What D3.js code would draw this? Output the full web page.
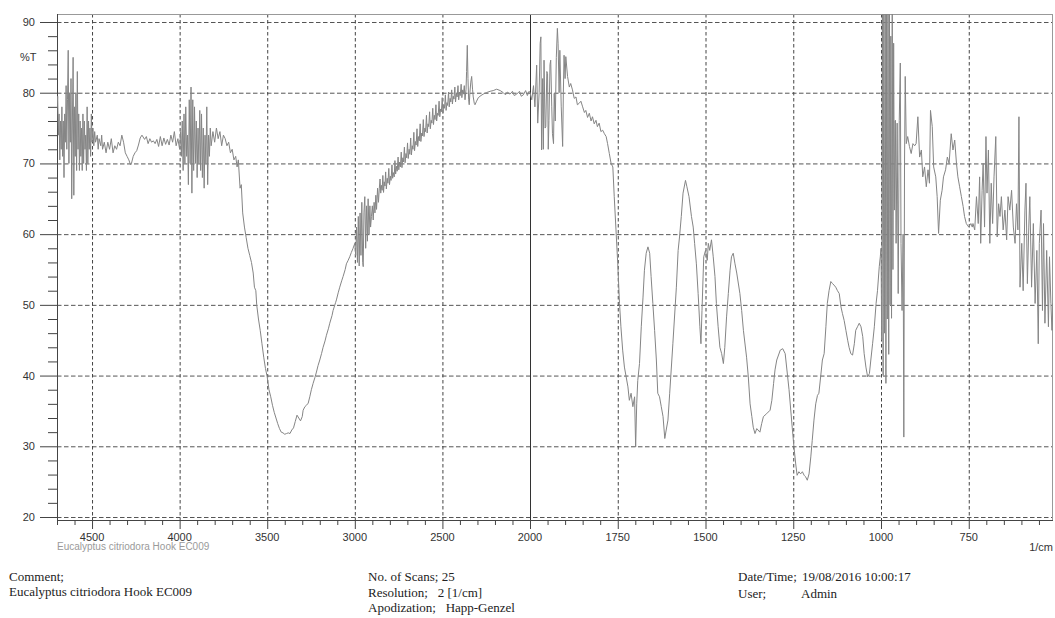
<!DOCTYPE html>
<html lang="en">
<head>
<meta charset="UTF-8">
<title>FTIR spectrum - Eucalyptus citriodora Hook EC009</title>
<script src="https://d3js.org/d3.v7.min.js"></script>
<style>
  body { margin: 0; background: #fff; }
  svg { display: block; }
  .tick-label { font-family: "Liberation Sans", Arial, sans-serif; font-size: 11px; fill: #333; }
  .footer { font-family: "Liberation Serif", "Times New Roman", serif; font-size: 13px; fill: #222; }
</style>
</head>
<body>
<svg width="1055" height="618"></svg>
<script>
// wavenumber (1/cm) and %T, one array per region
const region4700to3600 = [
  [4700,78],[4696,79.5],[4692,74],[4688,77],[4684,70.5],[4680,76],[4676,72],[4672,78],
  [4668,71],[4664,76],[4660,68],[4656,77],[4652,73],[4648,81],[4644,72],[4640,79],
  [4636,86],[4632,70],[4628,80],[4624,73],[4620,82],[4616,65],[4612,76],[4608,85],
  [4604,65.5],[4600,78],[4596,71],[4592,80],[4588,69],[4584,83],[4580,72],[4576,77],
  [4572,69],[4568,76],[4564,71],[4560,75],[4556,69],[4552,77],[4548,70],[4544,76],
  [4540,72],[4536,74],[4532,69],[4528,78],[4524,70],[4520,76],[4516,72],[4512,75],
  [4508,71],[4504,77],[4500,73],[4495,75],[4490,72.5],[4485,74.5],[4480,73],[4470,74],
  [4465,72],[4460,73.5],[4450,72.5],[4445,74],[4440,72],[4430,73],[4420,71.5],[4410,73],
  [4400,72],[4390,73.5],[4380,71.5],[4370,72.5],[4360,72],[4350,73],[4340,72.5],[4330,74],
  [4320,73],[4310,71.5],[4300,71],[4290,70.5],[4280,69.8],[4275,70],[4265,71],[4255,71.5],
  [4245,71.8],[4235,72.6],[4225,73.6],[4215,74],[4200,73.4],[4190,73.8],[4180,72.8],
  [4170,73.5],[4160,73],[4150,73.2],[4140,72.8],[4130,73.4],[4120,72.4],[4110,73.8],
  [4100,72.5],[4090,73.6],[4080,72.7],[4070,73.4],[4060,72.6],[4050,74],[4040,73],
  [4030,74.5],[4020,72.5],[4010,73.5],[4000,72],[3995,74.5],[3990,71],[3985,76],
  [3980,69],[3975,77],[3970,70],[3965,78],[3960,71],[3955,74],[3950,67],[3945,79],
  [3940,70],[3935,80.8],[3930,65.8],[3925,79],[3920,69],[3915,78],[3910,70],[3905,76],
  [3900,68],[3895,75],[3890,70],[3885,77.5],[3880,69],[3875,77],[3870,68],[3865,75],
  [3860,66.5],[3855,74],[3850,70],[3845,78],[3840,67],[3835,74],[3830,71],[3825,75],
  [3820,72.5],[3810,74.5],[3800,73],[3790,75],[3780,73.5],[3770,74.5],[3760,72.5],
  [3750,74],[3740,73.5],[3730,72.5],[3720,73],[3710,71.5],[3700,72],[3690,70.5],
  [3680,71],[3672,69.5],[3665,70.5],[3655,66.5],[3648,67],[3640,63],[3630,61],[3620,59.5],
  [3610,58]
];

const region3600to2000 = [
  [3600,57],[3590,56],[3580,54.5],[3573,52.5],[3565,52],[3560,50],[3550,48],[3540,46.4],
  [3530,44.5],[3520,42.6],[3510,41],[3500,39.8],[3490,38],[3480,37],[3470,35.8],[3460,34.8],
  [3450,34],[3440,33.2],[3430,32.5],[3420,32],[3410,31.9],[3400,31.7],[3390,31.8],
  [3380,31.9],[3370,31.8],[3360,32.3],[3350,32.6],[3340,33.5],[3330,34.4],[3320,34],
  [3310,33.6],[3300,34.2],[3295,35.1],[3285,35.6],[3276,35.8],[3266,36.1],[3257,37],
  [3248,38],[3238,38.9],[3228,39.7],[3219,40.5],[3210,41.4],[3200,42.2],[3190,43.1],
  [3181,44],[3170,44.9],[3162,45.7],[3150,46.7],[3143,47.4],[3130,48.5],[3124,49.2],
  [3110,50.3],[3105,50.7],[3095,51.7],[3086,52.5],[3075,53.4],[3067,54],[3055,55],
  [3048,55.8],[3038,56.3],[3029,56.8],[3020,57.4],[3010,58],[3000,58.7],[2995,57],
  [2990,61],[2985,56],[2980,62.5],[2975,55.5],[2970,63],[2965,57],[2960,64.5],[2955,56],
  [2952,55.4],[2948,63],[2943,65.3],[2938,58],[2933,64],[2928,59],[2924,65],[2919,60],
  [2914,64],[2910,61],[2905,62.5],[2900,64],[2895,62],[2890,64.5],[2885,63],[2880,65.5],
  [2876,63.5],[2870,66.5],[2865,64.5],[2860,66.5],[2856,67.8],[2852,65.8],[2848,66.9],
  [2844,66.2],[2840,68.3],[2836,65.9],[2832,67.4],[2828,66.8],[2824,68.8],[2820,66.4],
  [2815,67.9],[2811,67.2],[2806,69.3],[2802,67],[2797,68.2],[2793,67.6],[2788,69.8],
  [2784,67.9],[2780,68.7],[2775,68.1],[2771,70.4],[2767,68.5],[2762,69.6],[2758,68.9],
  [2753,70.9],[2749,69.1],[2744,70.2],[2740,69.5],[2735,71.6],[2731,69.4],[2726,70.8],
  [2722,70.2],[2717,72.3],[2713,70.1],[2708,71.4],[2704,70.8],[2699,72.9],[2695,70.7],
  [2690,72],[2686,71.3],[2681,73.6],[2677,71.2],[2672,72.5],[2668,72],[2663,74.4],
  [2659,71.8],[2654,73.1],[2650,72.6],[2645,74.9],[2641,72.4],[2636,73.8],[2632,73.2],
  [2627,75.6],[2623,73.1],[2618,74.3],[2614,73.9],[2609,76.2],[2605,73.8],[2600,75],
  [2596,74.5],[2591,76.8],[2587,74.3],[2582,75.6],[2578,75.2],[2573,77.3],[2569,74.9],
  [2564,76.1],[2560,75.7],[2555,77.8],[2551,75.5],[2546,76.8],[2542,76.2],[2537,78.3],
  [2533,76],[2528,77.1],[2524,76.8],[2519,78.8],[2515,76.6],[2510,77.7],[2506,77.3],
  [2501,79.3],[2497,77.1],[2492,78.3],[2488,77.8],[2483,79.7],[2479,77.5],[2474,78.6],
  [2470,78.2],[2465,80.1],[2461,78],[2456,79.2],[2452,78.7],[2447,80.4],[2443,78.4],
  [2438,79.5],[2434,79.1],[2429,80.8],[2425,78.7],[2420,79.9],[2416,79.4],[2411,81],
  [2407,79],[2402,80.1],[2398,79.6],[2393,81.2],[2389,79.3],[2384,80.4],[2380,79.8],
  [2375,81],[2371,79],[2365,80.5],
  [2362,83],[2358,86.7],[2354,82],[2350,79],[2347,78.3],[2343,80],[2338,81.5],[2333,82.3],
  [2328,80.5],[2324,79.4],[2318,78.5],[2314,78.3],[2305,78.8],[2295,79.3],[2280,79.6],
  [2267,79.8],[2250,80],[2228,80.2],[2210,80.3],[2190,80.5],[2170,80.3],[2152,80],
  [2140,79.7],[2130,80.1],[2114,79.8],[2100,80.2],[2090,79.6],[2076,79.8],[2060,80.2],
  [2050,79.5],[2038,79.7],[2025,80.3],[2015,79.6],[2005,80.2]
];

const region2000to1000 = [
  [2000,80],[1995,79],[1990,81],[1986,78],[1981,83.9],[1978,75.7],[1974,80],[1971,87],
  [1969,87.9],[1967,71.9],[1964,82],[1962,72],[1960,84.6],[1957,75],[1955,75.2],[1952,83],
  [1950,82.7],[1948,72],[1946,76.1],[1943,84],[1941,84.6],[1938,78],[1936,74.2],
  [1933,72.8],[1931,79.9],[1928,76],[1925,85],[1922,89.1],[1920,87],[1917,80],[1915,86],
  [1911,78],[1907,72.4],[1905,80],[1903,85.3],[1900,82],[1898,85.1],[1893,82.3],
  [1888,80.8],[1884,81.3],[1879,80.4],[1874,79.2],[1869,79.4],[1865,78.3],[1860,78.5],
  [1855,78.8],[1850,78],[1845,77.2],[1841,77.5],[1836,76.5],[1831,77.1],[1826,76],
  [1822,76.6],[1817,75.6],[1812,76.1],[1808,75.2],[1803,75.7],[1798,74.5],[1793,74.7],
  [1788,74.2],[1783,73.8],[1779,72.8],[1774,71.4],[1769,70],[1764,69.5],[1760,65.3],
  [1755,60.6],[1750,55.8],[1745,50.2],[1741,46.9],[1736,43.6],[1731,41.2],[1726,39.8],
  [1721,38.4],[1717,36.5],[1712,37.5],[1707,35.6],[1702,37],[1699,29.9],[1696,36],
  [1693,39.3],[1688,41.7],[1683,46.9],[1678,51.1],[1674,54.9],[1669,57.3],[1664,58.2],
  [1659,57.3],[1655,54],[1650,50.2],[1645,46.4],[1640,42.2],[1636,37.5],[1631,37],
  [1626,35.6],[1621,34.2],[1616,31.1],[1612,32.3],[1607,33.7],[1602,37.5],[1593,44.5],
  [1583,52.5],[1578,57.7],[1574,59.6],[1569,62.5],[1564,65.8],[1557,67.6],[1553,66.7],
  [1547,65.3],[1540,62.5],[1535,61],[1531,58.7],[1526,55.8],[1521,51.6],[1516,46.9],
  [1513,44.5],[1510,49.2],[1505,56.8],[1500,57.7],[1495,56.3],[1492,58.7],[1488,57.7],
  [1483,59.2],[1478,56.8],[1473,54],[1469,50.2],[1464,46.9],[1459,44],[1454,43.1],
  [1449,41.7],[1445,44],[1440,48.3],[1435,51.6],[1430,54.9],[1426,56.8],[1421,57.3],
  [1416,55.8],[1411,54.5],[1402,51.6],[1397,49.2],[1392,46.4],[1383,42.6],[1378,39.8],
  [1373,36],[1368,34.2],[1364,32.7],[1359,31.8],[1354,32.5],[1345,32],[1340,33.2],
  [1335,34.2],[1326,34.6],[1316,35.1],[1311,36.5],[1306,38.9],[1302,40.8],[1297,42.2],
  [1287,43.6],[1280,43.8],[1273,43.1],[1262,38],[1253,32.7],[1248,29.9],[1243,27.5],
  [1239,25.9],[1234,26.4],[1229,26.1],[1224,26.4],[1219,25.9],[1215,25.7],[1210,25.2],
  [1205,26.1],[1200,28.5],[1196,30.8],[1191,33.7],[1186,36],[1181,37.2],[1177,37.5],
  [1172,39.8],[1167,42.2],[1162,43.1],[1157,46.9],[1153,50.2],[1148,52],[1143,53.3],
  [1138,53],[1134,52.8],[1129,52.5],[1124,52],[1119,51.6],[1114,49.7],[1110,48.8],
  [1105,47.8],[1100,46.4],[1095,45],[1091,44],[1086,43.1],[1081,42.9],[1076,44.5],
  [1072,46.4],[1067,46.9],[1062,47.4],[1057,46.9],[1052,45.5],[1048,43.1],[1043,41.2],
  [1038,39.8],[1033,40.3],[1029,42.2],[1024,44.5],[1019,46.9],[1014,50.2],[1010,52],
  [1005,55.4],[1002,56.8]
];

const region1000to510 = [
  [1000,58],[998,45],[996,92],[994,40],[992,92],[990,46],[988,92],[986,38.9],[984,92],
  [982,48],[980,92],[978,43],[976,92],[974,50],[972,88],[970,48.1],[968,92],[966,55],
  [964,87],[962,63.4],[960,76],[959,76.1],[957,58.7],[954,75.7],[951,51.6],[948,76.1],
  [945,84.2],[943,58.7],[940,49.2],[937,60],[935,31.3],[933,70],[931,82.3],[928,72.8],
  [924,73.8],[919,72.4],[914,71.4],[909,72.8],[904,72.5],[900,72.8],[895,76.6],[890,70.9],
  [885,71.9],[881,68.1],[876,69.5],[871,66.7],[866,69.1],[862,67.2],[859,77.5],[854,75.2],
  [850,69.5],[844,68.1],[840,65.3],[836,60.1],[831,64.8],[826,66.2],[822,68.1],[816,69.1],
  [811,70.9],[806,70],[800,74.2],[795,71.9],[790,73.3],[785,70],[781,68.1],[776,66.7],
  [771,65.3],[766,63.9],[762,62.5],[757,61.5],[750,61],[744,61.5],[740,61],[738,61.5],
  [733,60.6],[728,65.3],[723,61.5],[719,68.1],[716,58.7],[712,66.2],[709,70],[705,61],
  [701,73.8],[698,65.8],[694,71.9],[690,58.7],[686,67.2],[682,61.5],[678,68.1],[673,73.8],
  [669,59.6],[665,64.3],[661,62.5],[657,65.3],[652,60.6],[647,63.4],[642,59.2],[638,65.3],
  [633,63.4],[628,66.2],[623,61],[618,58.7],[614,64.3],[610,60.6],[607,76.6],[604,52.5],
  [599,58.7],[595,52],[590,63.4],[587,67.2],[583,53],[579,61],[576,65.3],[571,52.5],
  [566,61.5],[561,50.2],[556,57.7],[552,44.5],[549,58.7],[544,63.4],[540,49.2],[537,61.5],
  [533,47.4],[528,57.7],[523,46.9],[520,56.8],[516,50.2],[513,46.4],[510,50.2]
];

// axis ticks and labels
const yTicks = [20, 30, 40, 50, 60, 70, 80, 90];
const yMinorTicks = d3.range(20, 91, 2);
const xLabelTicks = [4500, 4000, 3500, 3000, 2500, 2000, 1750, 1500, 1250, 1000, 750];
const xMinorHigh = d3.range(4700, 2000, -100);
const xMinorLow = d3.range(2000, 510, -50);

const sampleName = "Eucalyptus citriodora Hook EC009";
const infoLeft = ["Comment;", sampleName];
const infoMiddle = ["No. of Scans; 25", "Resolution;   2 [1/cm]", "Apodization;   Happ-Genzel"];
const infoRight = [["Date/Time;", "19/08/2016 10:00:17"], ["User;", "Admin"]];

const svg = d3.select("svg");
const plot = { left: 57, right: 1053, top: 14, bottom: 520 };

// the x axis is compressed by two above 2000 1/cm
const x = d3.scaleLinear()
    .domain([4700, 2000, 510])
    .range([plot.left, 530, plot.right]);

const y = d3.scaleLinear()
    .domain([20, 90])
    .range([517, 22]);

svg.append("rect")
    .attr("width", 1055).attr("height", 618).attr("fill", "#fff");

// horizontal grid
svg.append("g").selectAll("line")
    .data(yTicks)
    .join("line")
    .attr("x1", plot.left).attr("x2", plot.right)
    .attr("y1", d => y(d) + 0.5).attr("y2", d => y(d) + 0.5)
    .attr("stroke", "#555")
    .attr("stroke-width", 1)
    .attr("stroke-dasharray", "4.5,2.5");

// vertical grid, solid at the scale break
svg.append("g").selectAll("line")
    .data(xLabelTicks)
    .join("line")
    .attr("x1", d => x(d) + 0.5).attr("x2", d => x(d) + 0.5)
    .attr("y1", plot.top).attr("y2", plot.bottom)
    .attr("stroke", d => d === 2000 ? "#333" : "#444")
    .attr("stroke-width", 1)
    .attr("stroke-dasharray", d => d === 2000 ? null : "3.5,2.5");

// frame
svg.append("rect")
    .attr("x", plot.left + 0.5).attr("y", plot.top + 0.5)
    .attr("width", plot.right - plot.left - 1).attr("height", plot.bottom - plot.top)
    .attr("fill", "none")
    .attr("stroke", "#999")
    .attr("stroke-width", 1);

svg.append("line")
    .attr("x1", plot.left + 0.5).attr("x2", plot.left + 0.5)
    .attr("y1", plot.top).attr("y2", plot.bottom)
    .attr("stroke", "#444");
svg.append("line")
    .attr("x1", plot.left).attr("x2", plot.right)
    .attr("y1", plot.bottom + 0.5).attr("y2", plot.bottom + 0.5)
    .attr("stroke", "#444");

// y axis ticks
svg.append("g").selectAll("line")
    .data(yMinorTicks)
    .join("line")
    .attr("x1", d => d % 10 === 0 ? 40 : 48).attr("x2", plot.left)
    .attr("y1", d => y(d) + 0.5).attr("y2", d => y(d) + 0.5)
    .attr("stroke", "#444");

svg.append("g").selectAll("text")
    .data(yTicks)
    .join("text")
    .attr("class", "tick-label")
    .attr("x", 35)
    .attr("y", d => y(d) + 4)
    .attr("text-anchor", "end")
    .text(d => d);

svg.append("text")
    .attr("class", "tick-label")
    .attr("x", 20).attr("y", 61)
    .text("%T");

// x axis ticks
svg.append("g").selectAll("line")
    .data(xMinorHigh.concat(xMinorLow))
    .join("line")
    .attr("x1", d => x(d) + 0.5).attr("x2", d => x(d) + 0.5)
    .attr("y1", plot.bottom)
    .attr("y2", d => xLabelTicks.includes(d) ? plot.bottom + 9 : plot.bottom + 5)
    .attr("stroke", "#444");

svg.append("g").selectAll("text")
    .data(xLabelTicks)
    .join("text")
    .attr("class", "tick-label")
    .attr("x", d => x(d))
    .attr("y", plot.bottom + 21)
    .attr("text-anchor", "middle")
    .text(d => d);

svg.append("text")
    .attr("class", "tick-label")
    .attr("x", plot.right).attr("y", plot.bottom + 31)
    .attr("text-anchor", "end")
    .text("1/cm");

svg.append("text")
    .attr("x", plot.left).attr("y", plot.bottom + 30)
    .attr("font-family", "'Liberation Sans', Arial, sans-serif")
    .attr("font-size", 10)
    .attr("fill", "#9a9a9a")
    .text(sampleName);

// spectrum
svg.append("clipPath").attr("id", "plot-clip")
    .append("rect")
    .attr("x", plot.left).attr("y", plot.top)
    .attr("width", plot.right - plot.left).attr("height", plot.bottom - plot.top);

const spectrum = region4700to3600.concat(region3600to2000, region2000to1000, region1000to510);

const line = d3.line()
    .x(d => x(d[0]))
    .y(d => y(d[1]));

svg.append("path")
    .datum(spectrum)
    .attr("clip-path", "url(#plot-clip)")
    .attr("fill", "none")
    .attr("stroke", "#858585")
    .attr("stroke-width", 1)
    .attr("stroke-linejoin", "round")
    .attr("d", line);

// footer
svg.append("g").selectAll("text")
    .data(infoLeft)
    .join("text")
    .attr("class", "footer")
    .attr("x", 9)
    .attr("y", (d, i) => 581 + i * 14.5)
    .text(d => d);

svg.append("g").selectAll("text")
    .data(infoMiddle)
    .join("text")
    .attr("class", "footer")
    .attr("x", 368)
    .attr("y", (d, i) => 581 + i * 15.5)
    .attr("xml:space", "preserve")
    .style("white-space", "pre")
    .text(d => d);

const right = svg.append("g").selectAll("g")
    .data(infoRight)
    .join("g");
right.append("text")
    .attr("class", "footer")
    .attr("x", 738)
    .attr("y", (d, i) => 581 + i * 16.5)
    .text(d => d[0]);
right.append("text")
    .attr("class", "footer")
    .attr("x", (d, i) => i === 0 ? 802 : 801)
    .attr("y", (d, i) => 581 + i * 16.5)
    .text(d => d[1]);
</script>
</body>
</html>
